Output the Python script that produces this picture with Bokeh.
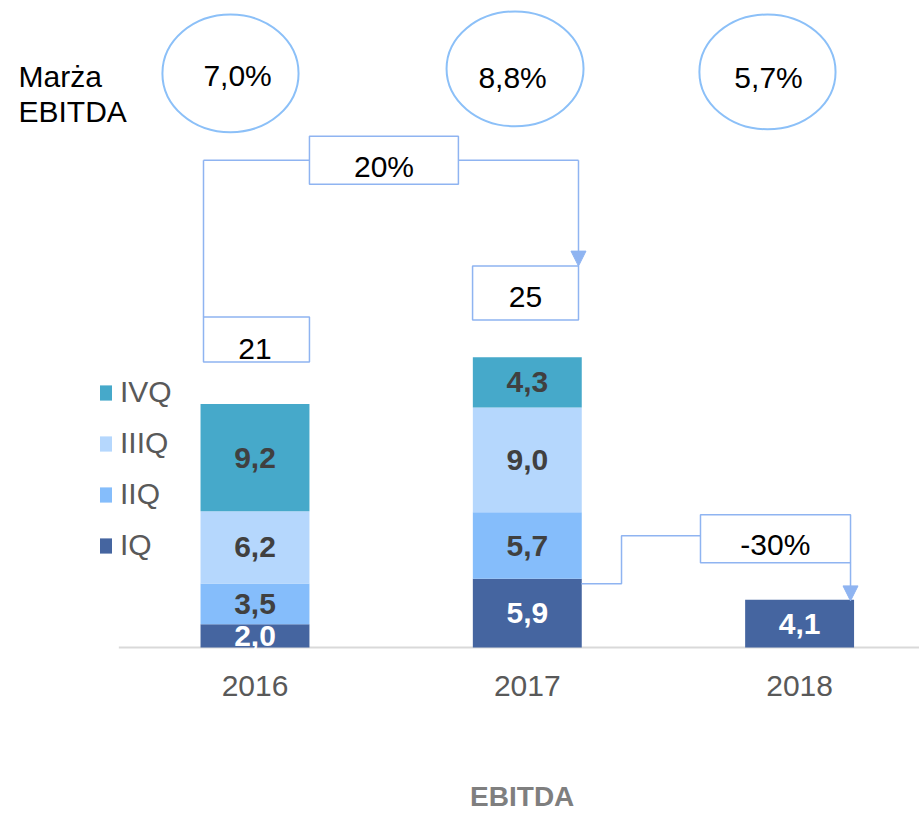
from bokeh.plotting import figure
from bokeh.models import (ColumnDataSource, Range1d, FixedTicker, Legend, LegendItem,
                          Arrow, NormalHead)
from bokeh.core.properties import value
from bokeh.embed import file_html
from bokeh.resources import INLINE

# ---------------- data ----------------
years = ["2016", "2017", "2018"]
quarters = ["IQ", "IIQ", "IIIQ", "IVQ"]
q1 = [2.0, 5.9, 4.1]
q2 = [3.5, 5.7, 0.0]
q3 = [6.2, 9.0, 0.0]
q4 = [9.2, 4.3, 0.0]
margins = ["7,0%", "8,8%", "5,7%"]
growth_labels = ["20%", "-30%"]
caption = "EBITDA"

colors = ["#4565A0", "#85BDFB", "#B5D7FD", "#46A9CA"]
label_colors = ["#FFFFFF", "#404040", "#404040", "#404040"]
box_color = "#8FB4F1"
FONT = "Liberation Sans"

xpos = list(range(len(years)))
src = ColumnDataSource(dict(x=xpos, IQ=q1, IIQ=q2, IIIQ=q3, IVQ=q4))

p = figure(width=919, height=814, output_backend="svg", toolbar_location=None,
           x_range=Range1d(-0.9346, 2.4403), y_range=Range1d(-0.343, 55.526),
           y_axis_location=None, min_border_left=0, min_border_right=0,
           min_border_top=0, min_border_bottom=162)
p.xgrid.visible = False
p.ygrid.visible = False
p.outline_line_color = None
p.background_fill_color = "white"
p.border_fill_color = "white"

# x axis
ax = p.xaxis[0]
ax.ticker = FixedTicker(ticks=xpos)
ax.major_label_overrides = {i: y for i, y in enumerate(years)}
ax.axis_line_color = None
ax.major_tick_line_color = None
ax.minor_tick_line_color = None
ax.major_label_text_font_size = "30px"
ax.major_label_text_color = "#595959"
ax.major_label_text_font = FONT
ax.major_label_standoff = 18
# caption (centred over the category area, right of the legend)
ax.axis_label = "\u00a0" * 16 + caption
ax.axis_label_text_font = FONT
ax.axis_label_text_font_size = "28px"
ax.axis_label_text_font_style = "bold"
ax.axis_label_text_color = "#7F7F7F"
ax.axis_label_standoff = 82

# baseline
p.line(x=[-0.5, 2.6], y=[0, 0], line_color="#D9D9D9", line_width=2)

# stacked bars
rs = p.vbar_stack(quarters, x="x", width=0.4, color=colors, line_color=None, source=src)

# segment labels
series = [q1, q2, q3, q4]
cum = [0.0] * len(years)
lx, ly, lt, lc = [], [], [], []
for si, s in enumerate(series):
    for i, v in enumerate(s):
        if v > 0:
            lx.append(xpos[i]); ly.append(cum[i] + v / 2)
            lt.append(f"{v:.1f}".replace(".", ",")); lc.append(label_colors[si])
        cum[i] += v
p.text(x=lx, y=ly, text=lt, text_color=lc, text_align="center", text_baseline="middle",
       text_font=value(FONT), text_font_size="30px", text_font_style="bold")

# legend
legend = Legend(items=[LegendItem(label=quarters[i], renderers=[rs[i]]) for i in (3, 2, 1, 0)],
                location=(98, 89), orientation="vertical",
                label_text_font_size="30px", label_text_color="#595959", label_text_font=FONT,
                glyph_width=15, glyph_height=19, label_standoff=7, spacing=17,
                padding=0, margin=0, border_line_color=None, background_fill_alpha=0)
p.add_layout(legend)

# margin ellipses
p.text(x=[-0.8685], y=[49.01], text=["Marża"], text_font=value(FONT), text_font_size="30px",
       text_color="black", text_baseline="alphabetic", text_align="left")
p.text(x=[-0.8685], y=[46.0], text=["EBITDA"], text_font=value(FONT), text_font_size="30px",
       text_color="black", text_baseline="alphabetic", text_align="left")
p.ellipse(x=[-0.09, 0.955, 1.882], y=[49.27, 49.66, 49.4], width=[0.5, 0.503, 0.5],
          height=[10.1, 9.85, 9.85], fill_color="white", line_color="#8CC0F8", line_width=2)
p.text(x=[-0.064, 0.946, 1.886], y=[49.1, 48.96, 48.93], text=margins, text_font=value(FONT),
       text_font_size="30px", text_color="black", text_align="center", text_baseline="middle")

# connectors
p.line(x=[-0.1891, -0.1891], y=[28.36, 41.82], line_color=box_color, line_width=1.5)
p.line(x=[-0.1891, 0.2], y=[41.82, 41.82], line_color=box_color, line_width=1.5)
p.line(x=[0.747, 1.188], y=[41.82, 41.82], line_color=box_color, line_width=1.5)
p.add_layout(Arrow(end=NormalHead(size=15, fill_color=box_color, line_color=box_color),
                   x_start=1.188, y_start=41.82, x_end=1.188, y_end=32.73,
                   line_color=box_color, line_width=1.5))
p.line(x=[1.199, 1.346, 1.346, 1.636], y=[5.48, 5.48, 9.60, 9.60], line_color=box_color,
       line_width=1.5)
p.add_layout(Arrow(end=NormalHead(size=15, fill_color=box_color, line_color=box_color),
                   x_start=2.187, y_start=7.28, x_end=2.187, y_end=4.0,
                   line_color=box_color, line_width=1.5))

# boxes
p.quad(left=[0.2, -0.1891, 0.799, 1.636], right=[0.747, 0.2, 1.188, 2.187],
       top=[43.87, 28.36, 32.73, 11.40], bottom=[39.76, 24.51, 28.11, 7.28],
       fill_color="white", line_color=box_color, line_width=1.5)
totals = [str(round(a + b + c + d)) for a, b, c, d in zip(q1, q2, q3, q4)]
p.text(x=[0.4737, 0.0, 0.993, 1.911], y=[41.3, 25.6, 30.05, 8.8],
       text=[growth_labels[0], totals[0], totals[1], growth_labels[1]],
       text_font=value(FONT), text_font_size="30px", text_color="black",
       text_align="center", text_baseline="middle")

open("out.html", "w").write(file_html(p, INLINE))
